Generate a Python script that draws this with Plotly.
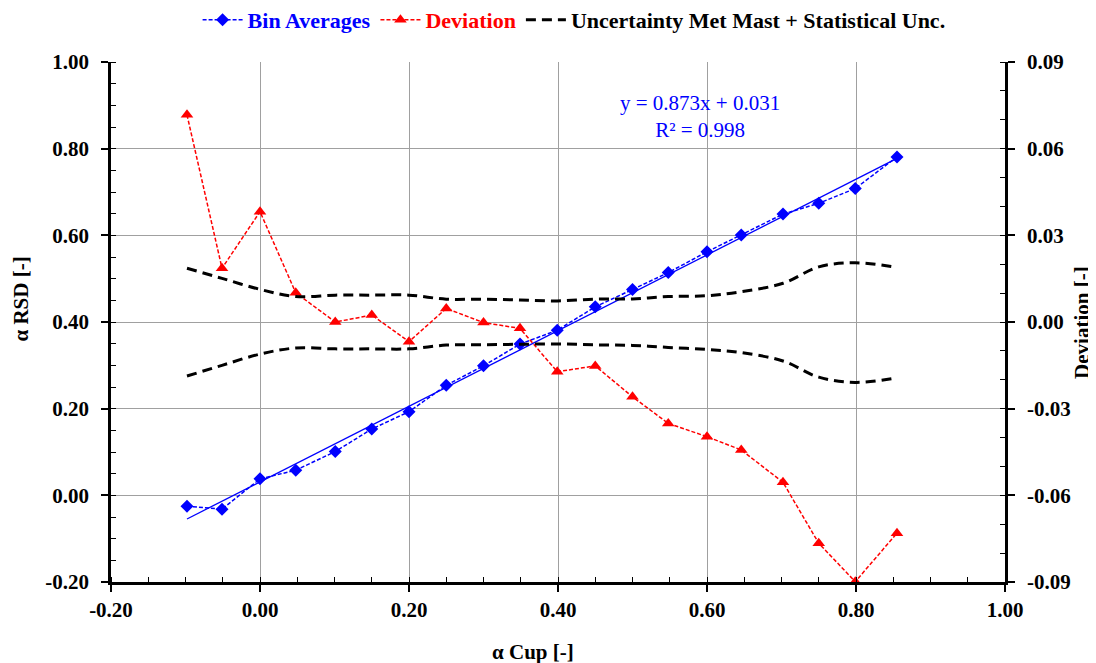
import plotly.graph_objects as go

# Bin averages (alpha Cup vs alpha RSD)
alpha_cup = [-0.098, -0.051, 0.0, 0.048, 0.101, 0.150, 0.200, 0.250, 0.300, 0.349,
             0.399, 0.450, 0.500, 0.548, 0.600, 0.646, 0.702, 0.750, 0.799, 0.855]
alpha_rsd = [-0.025, -0.032, 0.038, 0.058, 0.101, 0.153, 0.193, 0.254, 0.299, 0.349,
             0.381, 0.435, 0.475, 0.514, 0.562, 0.601, 0.649, 0.674, 0.708, 0.781]

# Deviation (right axis)
deviation = [0.0717, 0.0186, 0.0382, 0.0101, 0.0, 0.0024, -0.0068, 0.0047, -0.0002, -0.0022,
             -0.0172, -0.0152, -0.0259, -0.0351, -0.0397, -0.0443, -0.0555, -0.0766, -0.0899, -0.0731]

# Uncertainty band (right axis)
unc_upper = [0.0186, 0.0151, 0.0113, 0.0088, 0.0093, 0.0093, 0.0093, 0.0079, 0.0079, 0.0076,
             0.0073, 0.0079, 0.0080, 0.0088, 0.0091, 0.0105, 0.0134, 0.0191, 0.0205, 0.0189]
unc_lower = [-0.0187, -0.0150, -0.0111, -0.0090, -0.0093, -0.0093, -0.0093, -0.0080, -0.0079, -0.0077,
             -0.0076, -0.0079, -0.0081, -0.0088, -0.0095, -0.0106, -0.0135, -0.0191, -0.0209, -0.0193]

# Linear fit
slope, intercept, r2 = 0.873, 0.031, 0.998
fit_x = [min(alpha_cup), max(alpha_cup)]
fit_y = [slope * v + intercept for v in fit_x]

x_ticks = [-0.2, 0.0, 0.2, 0.4, 0.6, 0.8, 1.0]
y_ticks = [-0.2, 0.0, 0.2, 0.4, 0.6, 0.8, 1.0]
y2_ticks = [-0.09, -0.06, -0.03, 0.0, 0.03, 0.06, 0.09]

FONT = "Liberation Serif"
FS = 21
BLUE = "#0000FF"
RED = "#FF0000"

fig = go.Figure()

fig.add_trace(go.Scatter(
    x=alpha_cup, y=alpha_rsd, mode="lines+markers",
    name="<b><span style='color:#0000FF'>Bin Averages</span></b>",
    line=dict(color=BLUE, width=1.5, dash="4px,2px"),
    marker=dict(symbol="diamond", size=10, color=BLUE),
))
fig.add_trace(go.Scatter(
    x=fit_x, y=fit_y, mode="lines", showlegend=False,
    line=dict(color=BLUE, width=1.3),
))
fig.add_trace(go.Scatter(
    x=alpha_cup, y=deviation, mode="lines+markers", yaxis="y2",
    name="<b><span style='color:#FF0000'>Deviation</span></b>",
    line=dict(color=RED, width=1.5, dash="4px,2px"),
    marker=dict(symbol="triangle-up", size=11, color=RED),
))
fig.add_trace(go.Scatter(
    x=alpha_cup, y=unc_upper, mode="lines", yaxis="y2",
    name="<b>Uncertainty Met Mast + Statistical Unc.</b>",
    line=dict(color="black", width=3, dash="10px,6px", shape="spline"),
    legendgroup="unc",
))
fig.add_trace(go.Scatter(
    x=alpha_cup, y=unc_lower, mode="lines", yaxis="y2", showlegend=False,
    line=dict(color="black", width=3, dash="10px,6px", shape="spline"),
    legendgroup="unc",
))


def fmt(v):
    return f"{v:.2f}"


tickfont = dict(family=FONT, size=FS, color="black", weight="bold")

fig.update_layout(
    width=1096, height=663,
    margin=dict(l=103, r=99, t=54, b=89, autoexpand=False),
    paper_bgcolor="white", plot_bgcolor="white",
    font=dict(family=FONT, size=FS, color="black"),
    showlegend=True,
    legend=dict(
        orientation="h", x=0.518, xanchor="center", y=1.081, yanchor="middle",
        font=dict(family=FONT, size=22, color="black"),
        bgcolor="rgba(0,0,0,0)", itemwidth=40, tracegroupgap=0,
    ),
    xaxis=dict(
        range=[-0.2, 1.0], tickmode="array", tickvals=x_ticks, ticktext=[fmt(v) for v in x_ticks],
        showgrid=True, gridcolor="#A0A0A0", gridwidth=1, zeroline=False,
        showline=True, linecolor="black", linewidth=2.5,
        ticks="outside", ticklen=7, tickwidth=1.5, tickcolor="black",
        tickfont=tickfont,
        minor=dict(tickmode="linear", tick0=0, dtick=0.05, ticks="inside", ticklen=5,
                   tickwidth=1.2, tickcolor="black", showgrid=False),
    ),
    yaxis=dict(
        range=[-0.2, 1.0], tickmode="array", tickvals=y_ticks, ticktext=[fmt(v) for v in y_ticks],
        showgrid=True, gridcolor="#A0A0A0", gridwidth=1, zeroline=False,
        showline=True, linecolor="black", linewidth=2.5,
        ticks="outside", ticklen=7, tickwidth=1.5, tickcolor="black",
        tickfont=tickfont,
        ticklabelstandoff=8,
        minor=dict(tickmode="linear", tick0=0, dtick=0.05, ticks="inside", ticklen=5,
                   tickwidth=1.2, tickcolor="black", showgrid=False),
    ),
    yaxis2=dict(
        overlaying="y", side="right",
        range=[-0.09, 0.09], tickmode="array", tickvals=y2_ticks, ticktext=[fmt(v) for v in y2_ticks],
        showgrid=False, zeroline=False,
        showline=True, linecolor="black", linewidth=2.5,
        ticks="outside", ticklen=7, tickwidth=1.5, tickcolor="black",
        tickfont=tickfont,
        ticklabelstandoff=8,
        minor=dict(tickmode="linear", tick0=0, dtick=0.01, ticks="inside", ticklen=5,
                   tickwidth=1.2, tickcolor="black", showgrid=False),
    ),
    annotations=[
        dict(text="<b>α Cup [-]</b>", xref="paper", yref="paper", x=0.472, y=-0.135,
             xanchor="center", yanchor="middle", showarrow=False,
             font=dict(family=FONT, size=FS, color="black")),
        dict(text="<b>α RSD [-]</b>", xref="paper", yref="paper", x=-0.1007, y=0.545,
             xanchor="center", yanchor="middle", showarrow=False, textangle=-90,
             font=dict(family=FONT, size=FS, color="black")),
        dict(text="<b>Deviation [-]</b>", xref="paper", yref="paper", x=1.086, y=0.5,
             xanchor="center", yanchor="middle", showarrow=False, textangle=-90,
             font=dict(family=FONT, size=FS, color="black")),
        dict(text=f"y = {slope:.3f}x + {intercept:.3f}<br>R² = {r2:.3f}",
             xref="paper", yref="paper", x=0.659, y=0.896,
             xanchor="center", yanchor="middle", showarrow=False, align="center",
             font=dict(family=FONT, size=FS, color=BLUE)),
    ],
)

fig.write_html("out.html")
